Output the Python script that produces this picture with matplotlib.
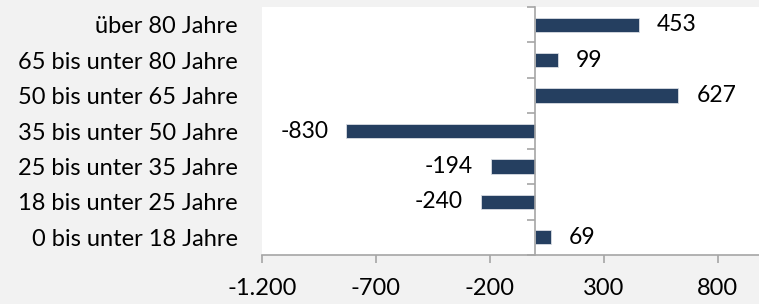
import matplotlib
matplotlib.use("Agg")
import matplotlib.pyplot as plt
from matplotlib.ticker import FuncFormatter, FixedLocator

# Altersgruppen (unten nach oben) und Saldo
categories = [
    "0 bis unter 18 Jahre",
    "18 bis unter 25 Jahre",
    "25 bis unter 35 Jahre",
    "35 bis unter 50 Jahre",
    "50 bis unter 65 Jahre",
    "65 bis unter 80 Jahre",
    "über 80 Jahre",
]
values = [69, -240, -194, -830, 627, 99, 453]
x_ticks = [-1200, -700, -200, 300, 800]

BAR = "#253f60"
AXIS = "#a6a6a6"
BG = "#f2f2f2"

plt.rcParams["font.family"] = ["Lato", "DejaVu Sans"]
plt.rcParams["font.size"] = 17

fig = plt.figure(figsize=(7.59, 3.04), dpi=100, facecolor=BG)
ax = fig.add_axes([262 / 759, 1 - 255 / 304, 1 - 262 / 759, 248 / 304])
ax.set_facecolor("white")

pos = list(range(len(categories)))
ax.barh(pos, values, height=0.4, color=BAR, edgecolor="#d9dde3", linewidth=0.6, zorder=3)

for y, v in zip(pos, values):
    ax.annotate(f"{v}", (v, y), xytext=(13 if v > 0 else -13, 0), textcoords="offset points",
                ha="left" if v > 0 else "right", va="center", fontsize=16.5, color="black")

ax.set_xlim(-1200, 981)
ax.set_ylim(-0.5, len(categories) - 0.5)
ax.set_xticks(x_ticks)
ax.xaxis.set_major_formatter(FuncFormatter(lambda v, p: f"{int(v):,}".replace(",", ".")))

ax.set_yticks(pos)
ax.set_yticklabels(categories)
ax.yaxis.set_minor_locator(FixedLocator([p - 0.5 for p in pos] + [len(pos) - 0.5]))

for s in ["top", "left"]:
    ax.spines[s].set_visible(False)
ax.spines["right"].set_position(("data", 0))
ax.spines["right"].set_color(AXIS)
ax.spines["right"].set_linewidth(1.2)
ax.spines["right"].set_zorder(4)
ax.spines["bottom"].set_color(AXIS)
ax.spines["bottom"].set_linewidth(1.2)

ax.tick_params(axis="y", which="major", left=False, right=False, labelleft=True,
               labelright=False, pad=14)
ax.tick_params(axis="y", which="minor", left=False, right=True, direction="in",
               length=5.8, width=1.2, color=AXIS)
ax.tick_params(axis="x", which="major", direction="out", length=5.8, width=1.2,
               color=AXIS, pad=11)

fig.savefig("out.png", dpi=100, facecolor=BG)
